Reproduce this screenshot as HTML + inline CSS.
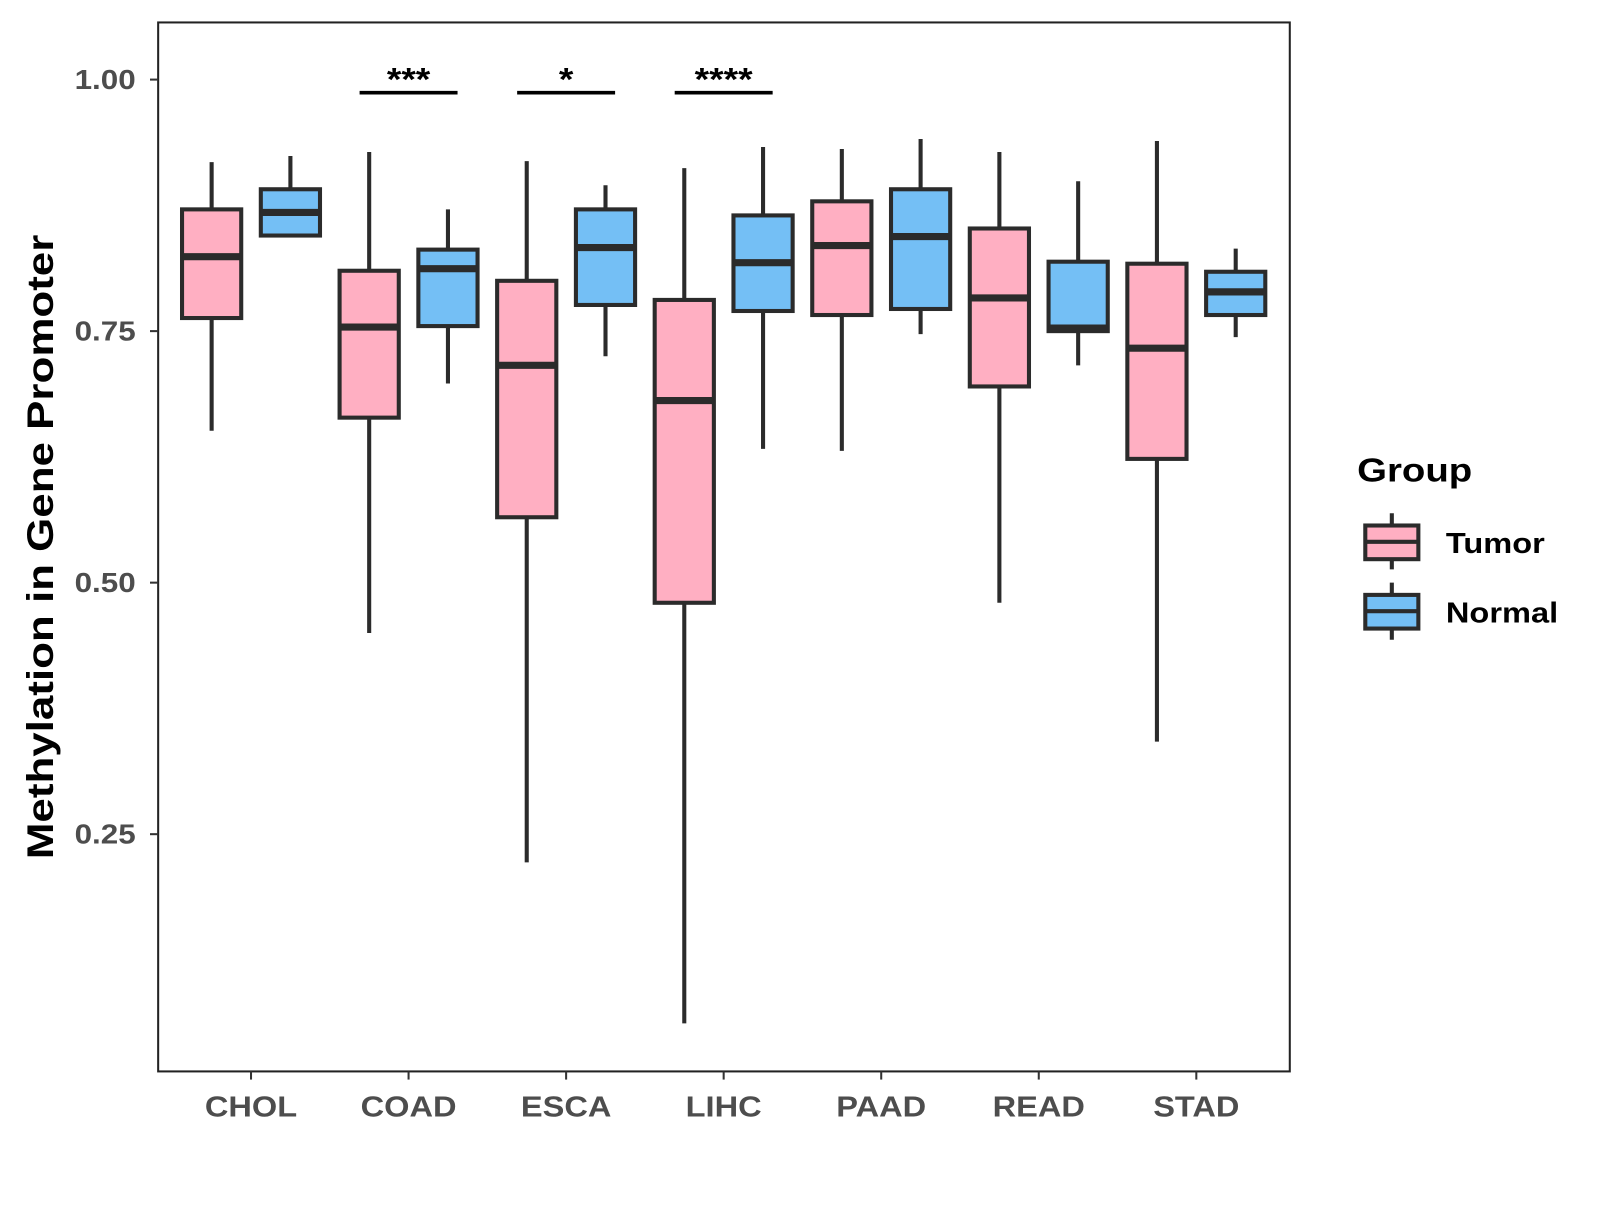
<!DOCTYPE html>
<html><head><meta charset="utf-8"><style>
html,body{margin:0;padding:0;background:#fff;}
svg text{font-family:"Liberation Sans",Arial,sans-serif;font-weight:bold;}
</style></head><body>
<svg id="chart" width="1600" height="1200" xmlns="http://www.w3.org/2000/svg">
<rect x="0" y="0" width="1600" height="1200" fill="#fff"/>
<g transform="scale(1.0204)">
<rect x="155" y="22" width="1109" height="1028" fill="none" stroke="#222" stroke-width="2"/>
<g id="marks"></g>
<text id="ytitle" transform="translate(52,536) rotate(-90)" text-anchor="middle" font-size="36" fill="#000">Methylation in Gene Promoter</text>
<g>
<text x="1330" y="472" font-size="33" fill="#000">Group</text>
<line x1="1364" y1="503" x2="1364" y2="558" stroke="#2b2b2b" stroke-width="4"/>
<rect x="1338" y="515" width="52" height="33" fill="#FFAFC2" stroke="#2b2b2b" stroke-width="4"/>
<line x1="1338" y1="531" x2="1390" y2="531" stroke="#2b2b2b" stroke-width="4"/>
<text x="1417" y="542" font-size="28" fill="#000">Tumor</text>
<line x1="1364" y1="571" x2="1364" y2="627" stroke="#2b2b2b" stroke-width="4"/>
<rect x="1338" y="583" width="52" height="33" fill="#74BFF5" stroke="#2b2b2b" stroke-width="4"/>
<line x1="1338" y1="599" x2="1390" y2="599" stroke="#2b2b2b" stroke-width="4"/>
<text x="1417" y="610" font-size="28" fill="#000">Normal</text>
</g>
</g>
</svg>
<script>
const categories=["CHOL","COAD","ESCA","LIHC","PAAD","READ","STAD"];
const tumorLow=[0.651,0.450,0.222,0.062,0.631,0.480,0.342];
const tumorQ1=[0.763,0.664,0.565,0.480,0.766,0.695,0.623];
const tumorMed=[0.824,0.754,0.716,0.681,0.835,0.783,0.733];
const tumorQ3=[0.871,0.810,0.800,0.781,0.879,0.852,0.817];
const tumorHigh=[0.918,0.928,0.919,0.912,0.931,0.928,0.939];
const normalLow=[0.845,0.698,0.725,0.633,0.747,0.716,0.744];
const normalQ1=[0.845,0.755,0.776,0.770,0.772,0.750,0.766];
const normalMed=[0.868,0.812,0.833,0.818,0.844,0.753,0.789];
const normalQ3=[0.891,0.831,0.871,0.865,0.891,0.819,0.809];
const normalHigh=[0.924,0.871,0.895,0.933,0.941,0.899,0.832];
const yTicks=[0.25,0.5,0.75,1.0];
const yTickLabels=["0.25","0.50","0.75","1.00"];
const sigCats=["COAD","ESCA","LIHC"];
const sigLabels=["***","*","****"];
const sigLevel=0.987;

const NS="http://www.w3.org/2000/svg";
const g=document.getElementById("marks");
function y(v){return 78+(1-v)*986;}
function x(i){return 246+i*154.4;}
function el(t,a,p){const e=document.createElementNS(NS,t);for(const k in a)e.setAttribute(k,a[k]);(p||g).appendChild(e);return e;}
const S="#2b2b2b";
yTicks.forEach((v,i)=>{
  const t=el("line",{x1:147,x2:155,y1:y(v),y2:y(v),stroke:"#333","stroke-width":2});
  
  
  const l=el("text",{x:133,y:y(v)+9,"text-anchor":"end","font-size":27,fill:"#4d4d4d"});
  l.textContent=yTickLabels[i];
  
  
});
categories.forEach((c,i)=>{
  const t=el("line",{x1:x(i),x2:x(i),y1:1050,y2:1058,stroke:"#333","stroke-width":2});
  
  
  const l=el("text",{x:x(i),y:1094,"text-anchor":"middle","font-size":28,fill:"#4d4d4d"});
  l.textContent=c;
  
  
  [[ -38.6,tumorLow,tumorQ1,tumorMed,tumorQ3,tumorHigh,"#FFAFC2","tumor"],
   [ 38.6,normalLow,normalQ1,normalMed,normalQ3,normalHigh,"#74BFF5","normal"]].forEach(s=>{
    const cx=x(i)+s[0];
    const grp=el("g",{});
    
    
    el("line",{x1:cx,x2:cx,y1:y(s[5][i]),y2:y(s[1][i]),stroke:S,"stroke-width":4},grp);
    el("rect",{x:cx-29,y:y(s[4][i]),width:58,height:y(s[2][i])-y(s[4][i]),fill:s[6],stroke:S,"stroke-width":4},grp);
    el("line",{x1:cx-29,x2:cx+29,y1:y(s[3][i]),y2:y(s[3][i]),stroke:S,"stroke-width":7},grp);
  });
});
sigCats.forEach((c,j)=>{
  const i=categories.indexOf(c);
  const b=el("line",{x1:x(i)-48,x2:x(i)+48,y1:y(sigLevel),y2:y(sigLevel),stroke:"#000","stroke-width":3.5});
  
  
  const t=el("text",{x:x(i),y:y(sigLevel)-2,"text-anchor":"middle","font-size":32,fill:"#000"});
  t.textContent=sigLabels[j];
  
  
});
document.querySelectorAll("svg text").forEach(t=>{
  if(t.id==="ytitle"){t.setAttribute("textLength","612");}
  else{t.setAttribute("textLength",(t.getComputedTextLength()*1.14).toFixed(1));}
  t.setAttribute("lengthAdjust","spacingAndGlyphs");
});
</script>
</body></html>
